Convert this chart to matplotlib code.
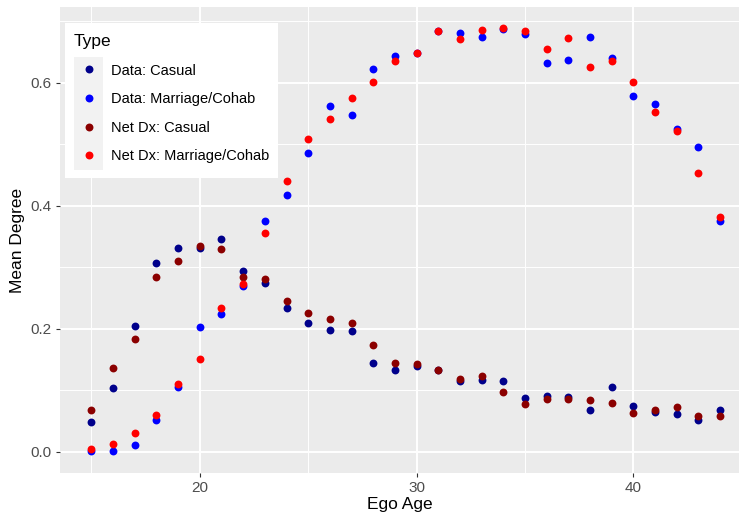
import matplotlib
matplotlib.use("Agg")
import matplotlib.pyplot as plt
from matplotlib.lines import Line2D
from matplotlib.patches import Rectangle

plt.rcParams['font.family'] = ['Liberation Sans', 'DejaVu Sans']

# Mean degree by ego age, observed vs. simulated (network diagnostics)
ages = list(range(15, 45))
data_casual = [0.049, 0.104, 0.204, 0.307, 0.332, 0.331, 0.346, 0.294, 0.274, 0.234,
               0.209, 0.199, 0.197, 0.145, 0.134, 0.140, 0.134, 0.115, 0.117, 0.115,
               0.087, 0.091, 0.089, 0.068, 0.105, 0.074, 0.065, 0.061, 0.052, 0.068]
data_marriage = [0.001, 0.002, 0.011, 0.052, 0.106, 0.203, 0.225, 0.270, 0.376, 0.418,
                 0.486, 0.562, 0.548, 0.623, 0.643, 0.648, 0.685, 0.681, 0.675, 0.687,
                 0.679, 0.633, 0.638, 0.675, 0.641, 0.578, 0.566, 0.525, 0.495, 0.375]
netdx_casual = [0.068, 0.137, 0.183, 0.284, 0.310, 0.335, 0.330, 0.285, 0.281, 0.246,
                0.226, 0.216, 0.209, 0.174, 0.145, 0.143, 0.134, 0.119, 0.124, 0.098,
                0.078, 0.086, 0.086, 0.085, 0.080, 0.063, 0.068, 0.073, 0.058, 0.058]
netdx_marriage = [0.004, 0.013, 0.031, 0.060, 0.110, 0.151, 0.234, 0.273, 0.356, 0.441,
                  0.509, 0.542, 0.576, 0.601, 0.635, 0.649, 0.685, 0.672, 0.686, 0.689,
                  0.685, 0.655, 0.673, 0.626, 0.635, 0.602, 0.553, 0.522, 0.453, 0.382]

series_labels = ["Data: Casual", "Data: Marriage/Cohab",
                 "Net Dx: Casual", "Net Dx: Marriage/Cohab"]
series_values = [data_casual, data_marriage, netdx_casual, netdx_marriage]
series_colors = ["#00008B", "#0000FF", "#8B0000", "#FF0000"]

x_major = [20, 30, 40]
x_minor = [15, 25, 35, 45]
y_major = [0.0, 0.2, 0.4, 0.6]
y_minor = [0.1, 0.3, 0.5, 0.7]

W, H = 739, 518
fig = plt.figure(figsize=(W / 100, H / 100), dpi=100)
# panel runs off the right edge in the reference
ax = fig.add_axes([60 / W, (H - 472.5) / H, (751.5 - 60) / W, (472.5 - 7) / H])
ax.set_facecolor("#EBEBEB")
for s in ax.spines.values():
    s.set_visible(False)

for vals, col in zip(series_values, series_colors):
    ax.scatter(ages, vals, s=32, color=col, linewidths=0, zorder=3)

# ggplot-style 5% expansion
xr = max(ages) - min(ages)
allv = [v for vals in series_values for v in vals]
yr = max(allv) - min(allv)
ax.set_xlim(min(ages) - 0.05 * xr, max(ages) + 0.05 * xr)
ax.set_ylim(min(allv) - 0.05 * yr, max(allv) + 0.05 * yr)

ax.set_xticks(x_major)
ax.set_xticks(x_minor, minor=True)
ax.set_yticks(y_major)
ax.set_yticks(y_minor, minor=True)
ax.set_yticklabels(["%.1f" % v for v in y_major])
ax.grid(which="major", color="white", linewidth=1.4, zorder=1)
ax.grid(which="minor", color="white", linewidth=0.7, zorder=1)
ax.set_axisbelow(True)
ax.tick_params(which="major", length=3, width=0.8, color="#333333",
               labelcolor="#4D4D4D", labelsize=11, pad=3)
ax.tick_params(which="minor", length=0)

ax.set_xlabel("Ego Age", fontsize=12.5)
ax.set_ylabel("Mean Degree", fontsize=12.5)
aw, ah = 751.5 - 60, 472.5 - 7
ax.xaxis.set_label_coords((400 - 60) / aw, (472.5 - 505) / ah)
ax.xaxis.label.set_va("center")
ax.yaxis.set_label_coords((18 - 60) / aw, (472.5 - 240) / ah)
ax.yaxis.label.set_va("center")

# legend box (white) and key column (light gray) behind the legend
ax.add_patch(Rectangle((65 / W, 1 - 178 / H), (278 - 65) / W, (178 - 23) / H,
                       transform=fig.transFigure, facecolor="white",
                       edgecolor="none", zorder=4.5))
ax.add_patch(Rectangle((74 / W, 1 - 170 / H), (103 - 74) / W, (170 - 57) / H,
                       transform=fig.transFigure, facecolor="#F2F2F2",
                       edgecolor="none", zorder=4.6))

handles = [Line2D([], [], linestyle="none", marker="o", markersize=5.7,
                  markerfacecolor=c, markeredgewidth=0) for c in series_colors]
leg = ax.legend(handles, series_labels, title="Type", loc="upper left",
                bbox_to_anchor=(74 / W, 1 - 34 / H), bbox_transform=fig.transFigure,
                frameon=False, fontsize=10.5, title_fontsize=12.5, alignment="left",
                borderpad=0, borderaxespad=0, handlelength=2.0, handletextpad=0.55,
                labelspacing=1.0)
leg.set_zorder(5)

fig.savefig("out.png", dpi=100)
